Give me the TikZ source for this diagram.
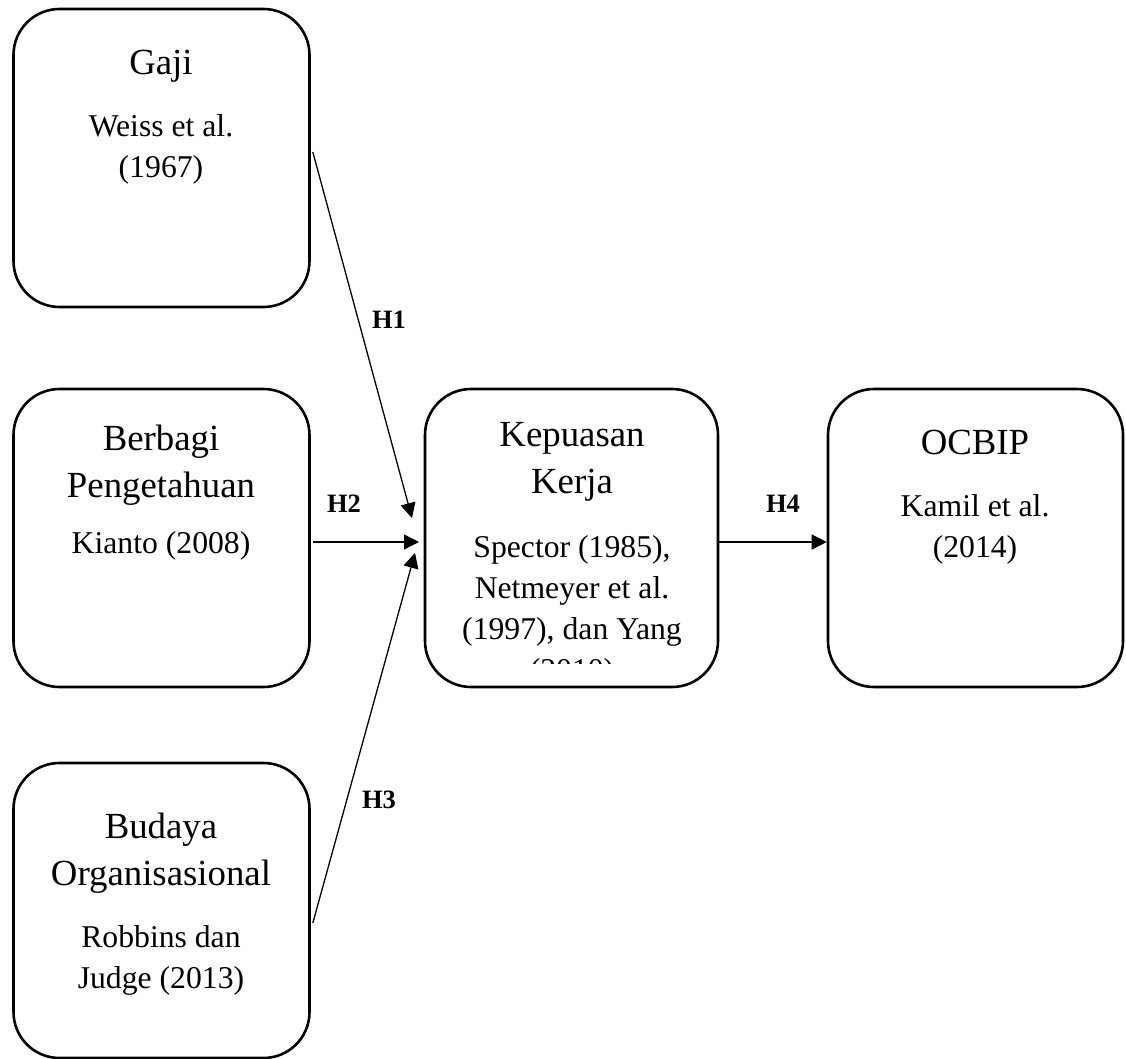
\documentclass[tikz,border=0pt]{standalone}
\usepackage{fontspec}
\setmainfont{Liberation Serif}
\usetikzlibrary{arrows.meta}
\begin{document}
\begin{tikzpicture}[x=1pt,y=-1pt,
 box/.style={draw, line width=2.6pt, rounded corners=46pt, minimum width=296pt, minimum height=298pt, inner sep=0pt},
 ttl/.style={font=\fontsize{36.8}{47}\selectfont, align=center, anchor=base, inner sep=0pt},
 sub/.style={font=\fontsize{31.7}{41}\selectfont, align=center, anchor=base, inner sep=0pt},
 lbl/.style={font=\fontsize{26.5}{30}\selectfont\bfseries, inner sep=0pt},
 conn/.style={line width=1.3pt, -{Triangle[length=15pt,width=15pt]}}]
\useasboundingbox (0,0) rectangle (1126,1059);
% boxes
\node[box] (gaji) at (161.5,158) {};
\node[box] (berb) at (161.5,538) {};
\node[box, minimum height=295pt] (bud) at (161.5,910.5) {};
\node[box, minimum width=293pt] (kep) at (571.5,538) {};
\node[box, minimum width=295pt] (ocb) at (975.5,538) {};
% texts (anchor = baseline of the last line)
\node[ttl] (gajiT) at (161,75) {Gaji};
\node[sub] (gajiS) at (161,178) {Weiss et al.\\(1967)};
\node[ttl] (berbT) at (161,497) {Berbagi\\Pengetahuan};
\node[sub] (berbS) at (161,553) {Kianto (2008)};
\node[ttl] (budT) at (161,885) {Budaya\\Organisasional};
\node[sub] (budS) at (161,988) {Robbins dan\\Judge (2013)};
\node[ttl] (kepT) at (572,493) {Kepuasan\\Kerja};
\begin{scope}
\clip (426,400) rectangle (717,663);
\node[sub] (kepS) at (572,680) {Spector (1985),\\Netmeyer et al.\\(1997), dan Yang\\(2010)};
\end{scope}
\node[ttl] (ocbT) at (975,454) {OCBIP};
\node[sub] (ocbS) at (975,557) {Kamil et al.\\(2014)};
% connector ends
\coordinate (e1) at (412,518);
\coordinate (e2) at (419,542);
\coordinate (e3) at (415,553);
\draw[conn] ([xshift=2pt,yshift=6pt]gaji.east) -- (e1);
\draw[conn] ([xshift=2pt,yshift=-4pt]berb.east) -- (e2);
\draw[conn] ([xshift=2pt,yshift=-12.5pt]bud.east) -- (e3);
\draw[conn] ([yshift=-4pt]kep.east) -- ([yshift=-4pt]ocb.west);
% labels
\node[lbl] (h1) at (389,320) {H1};
\node[lbl] (h2) at (344,504) {H2};
\node[lbl] (h3) at (379,800) {H3};
\node[lbl] (h4) at (783,504) {H4};
\end{tikzpicture}
\end{document}
